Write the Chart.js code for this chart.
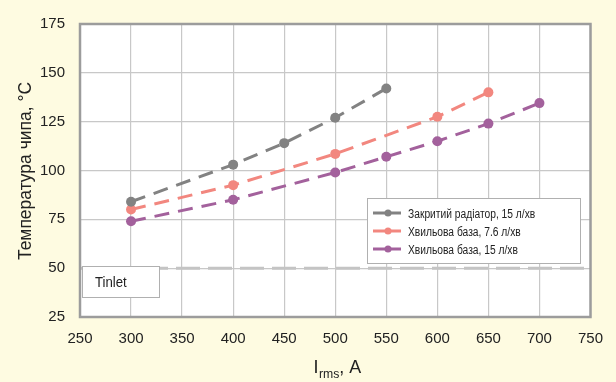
<!DOCTYPE html>
<html>
<head>
<meta charset="utf-8">
<script src="https://cdn.jsdelivr.net/npm/chart.js@4"></script>
<style>
  html, body { margin: 0; padding: 0; background: #fefbe1; }
  #wrap { width: 616px; height: 382px; position: relative; }
</style>
</head>
<body>
<div id="wrap"><canvas id="tempChart" width="616" height="382"></canvas></div>
<script>
// Дані
const radiatorI = [300, 400, 450, 500, 550];
const radiatorT = [84, 103, 114, 127, 142];
const wave76I = [300, 400, 500, 600, 650];
const wave76T = [80, 92.5, 108.5, 127.5, 140];
const wave15I = [300, 400, 500, 550, 600, 650, 700];
const wave15T = [74, 85, 99, 107, 115, 124, 134.5];
const inletI = [250, 750];
const inletT = [50, 50];

const seriesNames = ['Закритий радіатор, 15 л/хв', 'Хвильова база, 7.6 л/хв', 'Хвильова база, 15 л/хв'];
const seriesColors = ['#828282', '#f2877f', '#a3619c'];

const FONT = "'Liberation Sans', Arial, sans-serif";

const toPoints = (xs, ys) => xs.map((x, i) => ({ x: x, y: ys[i] }));

const makeSeries = (name, xs, ys, color) => ({
    label: name,
    data: toPoints(xs, ys),
    borderColor: color,
    backgroundColor: color,
    borderWidth: 3,
    borderDash: [15, 9],
    pointRadius: 5,
    pointHoverRadius: 5,
    pointBorderWidth: 0,
    tension: 0
});

// текст, стиснутий по горизонталі (як вузький шрифт в оригіналі)
const condText = (ctx, text, x, y, size, sx) => {
    ctx.save();
    ctx.font = size + 'px ' + FONT;
    ctx.translate(x, y);
    ctx.scale(sx, 1);
    ctx.fillText(text, 0, 0);
    ctx.restore();
};
const condWidth = (ctx, text, size, sx) => {
    ctx.save();
    ctx.font = size + 'px ' + FONT;
    const w = ctx.measureText(text).width * sx;
    ctx.restore();
    return w;
};

// фон, рамка, підписи осей, легенда та блок Tinlet
const decorPlugin = {
    id: 'decor',
    beforeDraw(chart) {
        const { ctx, chartArea: a } = chart;
        ctx.save();
        ctx.fillStyle = '#fefbe1';
        ctx.fillRect(0, 0, chart.width, chart.height);
        ctx.fillStyle = '#ffffff';
        ctx.fillRect(a.left, a.top, a.right - a.left, a.bottom - a.top);
        ctx.restore();
    },
    afterDraw(chart) {
        const { ctx, chartArea: a } = chart;
        ctx.save();
        ctx.textAlign = 'left';
        ctx.textBaseline = 'alphabetic';

        // рамка області графіка
        ctx.strokeStyle = '#9c9c9c';
        ctx.lineWidth = 2.5;
        ctx.strokeRect(a.left, a.top, a.right - a.left, a.bottom - a.top);

        // блок Tinlet
        ctx.fillStyle = '#ffffff';
        ctx.fillRect(82, 266, 77, 31);
        ctx.strokeStyle = '#b0b0b0';
        ctx.lineWidth = 1;
        ctx.strokeRect(82.5, 266.5, 77, 31);
        ctx.fillStyle = '#222';
        condText(ctx, 'Tinlet', 95, 287, 15, 0.88);

        // легенда
        ctx.fillStyle = '#ffffff';
        ctx.fillRect(367, 198, 213, 65);
        ctx.strokeStyle = '#b0b0b0';
        ctx.strokeRect(367.5, 198.5, 213, 65);
        const rows = [213, 231, 249];
        seriesNames.forEach((name, i) => {
            const y = rows[i];
            ctx.strokeStyle = seriesColors[i];
            ctx.lineWidth = 3;
            ctx.beginPath();
            ctx.moveTo(373, y);
            ctx.lineTo(401, y);
            ctx.stroke();
            ctx.fillStyle = seriesColors[i];
            ctx.beginPath();
            ctx.arc(388, y, 3.5, 0, Math.PI * 2);
            ctx.fill();
            ctx.fillStyle = '#222';
            condText(ctx, name, 408, y + 4.5, 12.5, 0.82);
        });

        // назва осі Y
        ctx.save();
        ctx.translate(31, 171);
        ctx.rotate(-Math.PI / 2);
        ctx.fillStyle = '#222';
        const yTitle = 'Температура чипа, °C';
        const wy = condWidth(ctx, yTitle, 19, 0.92);
        condText(ctx, yTitle, -wy / 2, 0, 19, 0.92);
        ctx.restore();

        // назва осі X з індексом
        const cx = 337;
        const by = 373;
        const wI = condWidth(ctx, 'I', 19, 0.94);
        const wSub = condWidth(ctx, 'rms', 13, 0.94);
        const wTail = condWidth(ctx, ', A', 19, 0.94);
        const x0 = cx - (wI + wSub + wTail) / 2;
        ctx.fillStyle = '#222';
        condText(ctx, 'I', x0, by, 19, 0.94);
        condText(ctx, 'rms', x0 + wI + 0.5, by + 5, 13, 0.94);
        condText(ctx, ', A', x0 + wI + wSub + 0.5, by, 19, 0.94);

        ctx.restore();
    }
};

const ctx = document.getElementById('tempChart').getContext('2d');

new Chart(ctx, {
    type: 'line',
    data: {
        datasets: [
            {
                label: 'Tinlet',
                data: toPoints(inletI, inletT),
                borderColor: '#c4c4c4',
                borderWidth: 3,
                borderDash: [24, 8],
                pointRadius: 0,
                tension: 0
            },
            makeSeries(seriesNames[0], radiatorI, radiatorT, seriesColors[0]),
            makeSeries(seriesNames[1], wave76I, wave76T, seriesColors[1]),
            makeSeries(seriesNames[2], wave15I, wave15T, seriesColors[2])
        ]
    },
    options: {
        responsive: false,
        animation: false,
        layout: { padding: { top: 22, right: 24, left: 0, bottom: 0 } },
        plugins: {
            legend: { display: false },
            tooltip: { enabled: false }
        },
        scales: {
            x: {
                type: 'linear',
                min: 250,
                max: 750,
                afterFit: (scale) => { scale.height = 65; },
                ticks: {
                    stepSize: 50,
                    color: '#222',
                    padding: 13,
                    maxRotation: 0,
                    font: { family: FONT, size: 15 }
                },
                grid: { color: '#c8c8c8', lineWidth: 1.2, drawTicks: false },
                border: { display: false }
            },
            y: {
                min: 25,
                max: 175,
                afterFit: (scale) => { scale.width = 80; },
                ticks: {
                    stepSize: 25,
                    color: '#222',
                    padding: 15,
                    font: { family: FONT, size: 15 }
                },
                grid: { color: '#c8c8c8', lineWidth: 1.2, drawTicks: false },
                border: { display: false }
            }
        }
    },
    plugins: [decorPlugin]
});
</script>
</body>
</html>
